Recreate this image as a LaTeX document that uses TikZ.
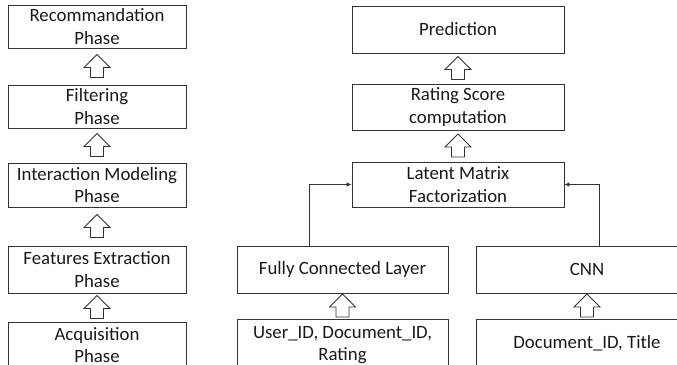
\documentclass[tikz,border=0pt]{standalone}
\usepackage{fontspec}
\setmainfont{Carlito}
\usetikzlibrary{arrows.meta,calc}

\tikzset{
  phasebox/.style={draw=black!80, line width=0.8pt, align=center, inner sep=0pt,
    text=black!90, font=\fontsize{18.8}{22.5}\selectfont},
  hollow/.style={draw=black!80, line width=0.8pt, fill=white, line join=miter},
  link/.style={draw=black!80, line width=0.8pt, -{Latex[length=5pt,width=4.5pt]}},
}

% hollow block arrow pointing up, between two stacked boxes
\newcommand{\blockup}[2]{%
  \coordinate (m) at ($(#1.north)!0.5!(#2.south)$);
  \begin{scope}[shift={(m)}]
    \draw[hollow] (0,-12) -- (13,1) -- (6.5,1) -- (6.5,11) -- (-6.5,11) -- (-6.5,1) -- (-13,1) -- cycle;
  \end{scope}}

\begin{document}
\begin{tikzpicture}[x=1pt, y=-1pt]
  \useasboundingbox (0,0) rectangle (677,364);

  % left column: phases
  \node[phasebox, minimum width=178pt, minimum height=43pt] (rec) at (97,26.5) {Recommandation\\Phase};
  \node[phasebox, minimum width=178pt, minimum height=43pt] (filt) at (97,106.5) {Filtering\\Phase};
  \node[phasebox, minimum width=178pt, minimum height=44pt] (inter) at (97,185) {Interaction Modeling\\Phase};
  \node[phasebox, minimum width=178pt, minimum height=47pt] (feat) at (97,269.5) {Features Extraction\\Phase};
  \node[phasebox, minimum width=178pt, minimum height=46pt] (acq) at (97,345) {Acquisition\\Phase};

  \blockup{filt}{rec}
  \blockup{inter}{filt}
  \blockup{feat}{inter}
  \blockup{acq}{feat}

  % right part: model
  \node[phasebox, minimum width=212pt, minimum height=47pt] (pred) at (458,29.5) {Prediction};
  \node[phasebox, minimum width=212pt, minimum height=46pt] (rate) at (458,107) {Rating Score\\computation};
  \node[phasebox, minimum width=212pt, minimum height=45pt] (lat) at (458,184.5) {Latent Matrix\\Factorization};

  \node[phasebox, minimum width=211pt, minimum height=47pt] (fc) at (342.5,269.5) {Fully Connected Layer};
  \node[phasebox, minimum width=211pt, minimum height=52pt] (usr) at (342.5,345) {User\_ID, Document\_ID,\\Rating};
  \node[phasebox, minimum width=222pt, minimum height=47pt] (cnn) at (587,269.5) {CNN};
  \node[phasebox, minimum width=222pt, minimum height=48pt] (doc) at (587,343) {Document\_ID, Title};

  \blockup{rate}{pred}
  \blockup{lat}{rate}
  \blockup{usr}{fc}
  \blockup{doc}{cnn}

  \draw[link] ([xshift=-33pt]fc.north) |- (lat.west);
  \draw[link] ([xshift=12pt]cnn.north) |- (lat.east);
\end{tikzpicture}
\end{document}
